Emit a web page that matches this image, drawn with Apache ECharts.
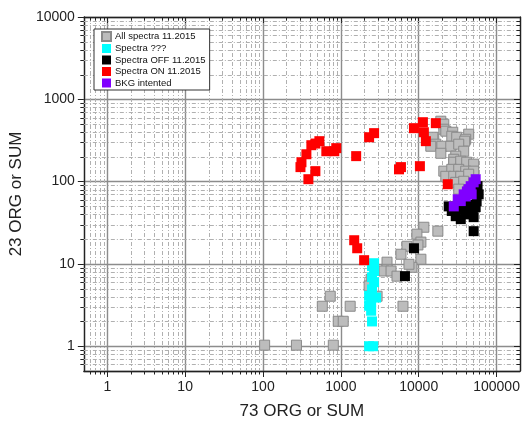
<!DOCTYPE html>
<html><head><meta charset="utf-8">
<script src="https://cdn.jsdelivr.net/npm/echarts@6/dist/echarts.min.js"></script>
<style>html,body{margin:0;padding:0;background:#fff}#c{width:524px;height:429px}</style>
</head><body><div id="c"></div>
<script>
// ---- data (x = 73 ORG or SUM, y = 23 ORG or SUM) ----
const allSpectra = [
  [19230,542],[21010,498],[21010,433],[22290,410],[27380,398],[26600,356],[30790,346],[43870,377],
  [40150,327],[38980,310],[15640,327],[15200,346],[16590,285],[14310,269],[19820,269],[25820,269],
  [32660,285],[37840,234],[19230,221],[29910,204],[28200,187],[28200,172],[34640,177],[41350,172],
  [50800,163],[21010,134],[26600,141],[32660,141],[40150,134],[50800,134],[22290,116],[28200,116],
  [34640,116],[43870,123],[29910,98],[37840,101],[32660,81],
  [11650,27.9],[17620,25.0],[9484,23.0],[10670,18.4],[7066,16.4],[9772,17.0],[5916,13.1],[10670,11.4],
  [3918,10.5],[3918,8.6],[3586,8.2],[4413,8.2],[5263,7.1],[8186,9.1],[7495,9.9],[2449,6.5],
  [2307,5.4],[2920,4.05],[731,4.05],[1318,3.06],[578,3.06],[6281,3.06],[926,2.01],[1073,2.01],
  [105,1.03],[269,1.03],[800,1.03]
];
const spectraUnknown = [
  [2673,10.2],[2515,9.4],[2673,8.2],[2515,6.9],[2673,6.0],[2515,4.9],[2307,4.1],[2836,3.9],
  [2450,3.5],[2307,3.1],[2450,2.7],[2515,2.0],[2307,1.0],[2600,1.0]
];
const spectraOff = [
  [24300,50],[26600,44],[29900,38],[32700,46],[34700,35],[40200,40],[40200,46],[47900,42],
  [50800,37],[53900,49],[55500,58],[58900,70],[57000,88],[49300,45],[45000,52],[36000,50],
  [50800,25],[8690,15.5],[6660,7.1]
];
const spectraOn = [
  [418,277],[530,310],[471,290],[651,234],[824,234],[873,255],[361,215],[312,172],[303,150],
  [471,134],[383,107],[1573,204],[2307,346],[2673,388],[5916,150],[5585,141],[10360,154],
  [8690,446],[11320,527],[11650,398],[12360,310],[16590,513],[23620,93],[1484,19.4],[1622,15.5],[1991,11.1]
];
const bkgIntended = [
  [28200,50],[31700,61],[34700,58],[37800,70],[40200,66],[43800,81],[46500,88],[50800,98],
  [53900,107],[41600,76],[47900,70]
];
const seriesNames = ['All spectra 11.2015','Spectra ???','Spectra OFF 11.2015','Spectra ON 11.2015','BKG intented'];
const xRange = [0.5, 200000];
const yRange = [0.5, 10000];

// minor (2..9 per decade) positions for the log grid
function minorPositions(lo, hi){
  const out=[];
  for(let d=-1; d<=6; d++){ for(let k=2;k<=9;k++){ const v=k*Math.pow(10,d); if(v>lo && v<hi) out.push(v);} }
  return out;
}
const xMinor = minorPositions(xRange[0], xRange[1]);
const yMinor = minorPositions(yRange[0], yRange[1]);

const fmt = v => String(Math.round(v));
const FONT = 'Liberation Sans, Arial, sans-serif';

function minorRender(isX){
  return function(params, api){
    const cs = params.coordSys;
    const v = api.value(isX?0:1);
    const children=[];
    if(isX){
      const p = Math.round(api.coord([v,1])[0])+0.5;
      children.push({type:'line',shape:{x1:p,y1:cs.y,x2:p,y2:cs.y+cs.height},style:{stroke:'#b0b0b0',lineWidth:1,lineDash:[4,2,1,2]}});
      children.push({type:'line',shape:{x1:p,y1:cs.y+cs.height,x2:p,y2:cs.y+cs.height+3.5},style:{stroke:'#222',lineWidth:1}});
      children.push({type:'line',shape:{x1:p,y1:cs.y,x2:p,y2:cs.y+3.5},style:{stroke:'#222',lineWidth:1}});
    } else {
      const p = Math.round(api.coord([1,v])[1])+0.5;
      children.push({type:'line',shape:{x1:cs.x,y1:p,x2:cs.x+cs.width,y2:p},style:{stroke:'#b0b0b0',lineWidth:1,lineDash:[4,2,1,2]}});
      children.push({type:'line',shape:{x1:cs.x-3.5,y1:p,x2:cs.x,y2:p},style:{stroke:'#222',lineWidth:1}});
      children.push({type:'line',shape:{x1:cs.x+cs.width-3.5,y1:p,x2:cs.x+cs.width,y2:p},style:{stroke:'#222',lineWidth:1}});
    }
    return {type:'group',children};
  };
}

const sq = (name, data, color, size, border) => ({
  name, type:'scatter', data, symbol:'rect', symbolSize:size, z:5,
  itemStyle:{color, borderColor:border||color, borderWidth:border?1:0, opacity:1},
  emphasis:{disabled:true}, animation:false
});

const chart = echarts.init(document.getElementById('c'), null, {renderer:'canvas'});
chart.setOption({
  backgroundColor:'#fff',
  animation:false,
  textStyle:{fontFamily:FONT},
  grid:{left:83, top:17, right:4, bottom:58, containLabel:false},
  legend:{
    data:seriesNames, orient:'vertical', left:94, top:29,
    backgroundColor:'#fff', borderColor:'#333', borderWidth:1, borderRadius:0,
    padding:[2,4,2,7], itemGap:1.5, itemWidth:9, itemHeight:9, selectedMode:false,
    textStyle:{fontSize:9.5, color:'#111', fontFamily:FONT, lineHeight:10, padding:[0,0,0,-1]}
  },
  xAxis:[{
    type:'log', logBase:10, min:xRange[0], max:xRange[1],
    name:'73 ORG or SUM', nameLocation:'middle', nameGap:32,
    nameTextStyle:{fontSize:17, color:'#222', fontFamily:FONT},
    axisLine:{show:true, onZero:false, lineStyle:{color:'#222', width:1.3}},
    axisTick:{show:true, length:6, lineStyle:{color:'#222', width:1}},
    axisLabel:{formatter:fmt, showMinLabel:false, showMaxLabel:false, fontSize:14, color:'#222', margin:9, fontFamily:FONT},
    splitLine:{show:true, lineStyle:{color:'#8c8c8c', width:1.4}}
  },{
    type:'log', logBase:10, min:xRange[0], max:xRange[1], position:'top',
    axisLine:{show:true, onZero:false, lineStyle:{color:'#222', width:1.3}},
    axisTick:{show:true, inside:true, length:6, lineStyle:{color:'#222'}},
    axisLabel:{show:false}, splitLine:{show:false}
  }],
  yAxis:[{
    type:'log', logBase:10, min:yRange[0], max:yRange[1],
    name:'23 ORG or SUM', nameLocation:'middle', nameGap:54,
    nameTextStyle:{fontSize:17, color:'#222', fontFamily:FONT},
    axisLine:{show:true, onZero:false, lineStyle:{color:'#222', width:1.3}},
    axisTick:{show:true, length:6, lineStyle:{color:'#222', width:1}},
    axisLabel:{formatter:fmt, showMinLabel:false, showMaxLabel:true, fontSize:14, color:'#222', margin:9, fontFamily:FONT},
    splitLine:{show:true, lineStyle:{color:'#8c8c8c', width:1.4}}
  },{
    type:'log', logBase:10, min:yRange[0], max:yRange[1], position:'right',
    axisLine:{show:true, onZero:false, lineStyle:{color:'#222', width:1.3}},
    axisTick:{show:true, inside:true, length:6, lineStyle:{color:'#222'}},
    axisLabel:{show:false}, splitLine:{show:false}
  }],
  series:[
    {type:'custom', name:'xminor', data:xMinor.map(v=>[v,1]), renderItem:minorRender(true), silent:true, z:1, clip:false, animation:false},
    {type:'custom', name:'yminor', data:yMinor.map(v=>[1,v]), renderItem:minorRender(false), silent:true, z:1, clip:false, animation:false},
    sq(seriesNames[0], allSpectra, '#bcbcbc', 10, '#8a8a8a'),
    sq(seriesNames[1], spectraUnknown, '#00ffff', 10),
    sq(seriesNames[2], spectraOff, '#000000', 10),
    sq(seriesNames[3], spectraOn, '#ff0000', 10),
    sq(seriesNames[4], bkgIntended, '#8000ff', 10)
  ]
});
</script></body></html>
